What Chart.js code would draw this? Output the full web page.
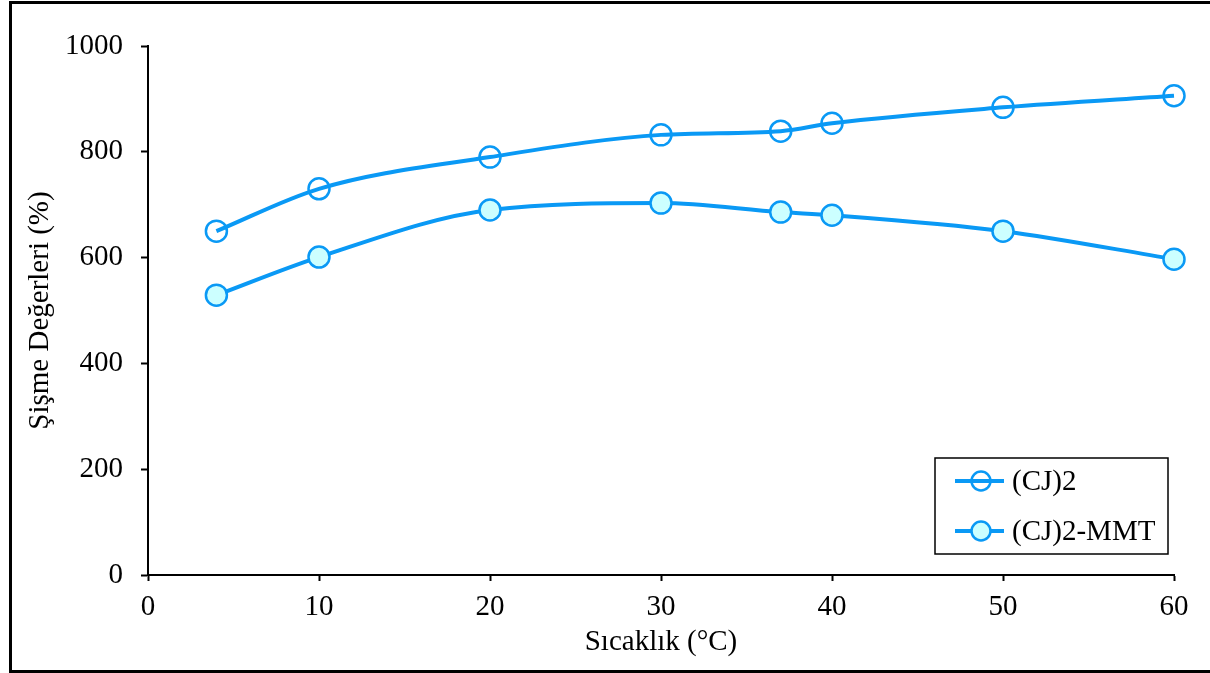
<!DOCTYPE html>
<html>
<head>
<meta charset="utf-8">
<script src="https://cdn.jsdelivr.net/npm/chart.js@4.4.0/dist/chart.umd.min.js"></script>
<style>
html,body{margin:0;padding:0;background:#fff;}
#wrap{width:1210px;height:673px;position:relative;}
</style>
</head>
<body>
<div id="wrap"><canvas id="c" width="1210" height="673"></canvas></div>
<script>
const temps = [4, 10, 20, 30, 37, 40, 50, 60];
const cj2 = [650, 730, 790, 832, 839, 854, 884, 906];
const cj2mmt = [529, 601, 690, 703, 686, 680, 650, 597];
const seriesNames = ['(CJ)2', '(CJ)2-MMT'];
const xTitle = 'Sıcaklık (°C)';
const yTitle = 'Şişme Değerleri (%)';

const blue = '#0A99F5';
const fonts = "'Liberation Serif', 'Times New Roman', serif";
const FS = 29;

const borderPlugin = {
  id: 'outerBorder',
  afterDraw(chart) {
    const ctx = chart.ctx;
    ctx.save();
    ctx.strokeStyle = '#000';
    ctx.lineWidth = 3;
    ctx.strokeRect(10.5, 2.5, 1210, 669);
    ctx.restore();
  }
};

const legendPlugin = {
  id: 'customLegend',
  afterDraw(chart) {
    const ctx = chart.ctx;
    ctx.save();
    ctx.strokeStyle = '#000';
    ctx.lineWidth = 1.5;
    ctx.strokeRect(935, 458, 233, 96);
    const rows = [{y: 481, fill: 'rgba(0,0,0,0)'}, {y: 531, fill: '#CCFFFF'}];
    rows.forEach((r, i) => {
      ctx.strokeStyle = blue;
      ctx.lineWidth = 4;
      ctx.beginPath();
      ctx.moveTo(955, r.y); ctx.lineTo(1004, r.y);
      ctx.stroke();
      ctx.beginPath();
      ctx.arc(981, r.y, 9.5, 0, Math.PI * 2);
      ctx.fillStyle = r.fill;
      ctx.fill();
      ctx.lineWidth = 2.5;
      ctx.stroke();
      ctx.fillStyle = '#000';
      ctx.font = FS + 'px ' + fonts;
      ctx.textBaseline = 'middle';
      ctx.fillText(seriesNames[i], 1012, r.y + 1);
    });
    ctx.restore();
  }
};

new Chart(document.getElementById('c'), {
  type: 'line',
  data: {
    datasets: [
      {
        label: seriesNames[0],
        data: temps.map((t, i) => ({x: t, y: cj2[i]})),
        borderColor: blue,
        borderWidth: 4,
        pointRadius: 10.5,
        pointBorderWidth: 2.5,
        pointBackgroundColor: 'rgba(0,0,0,0)',
        pointBorderColor: blue,
        cubicInterpolationMode: 'monotone',
        clip: false
      },
      {
        label: seriesNames[1],
        data: temps.map((t, i) => ({x: t, y: cj2mmt[i]})),
        borderColor: blue,
        borderWidth: 4,
        pointRadius: 10.5,
        pointBorderWidth: 2.5,
        pointBackgroundColor: '#CCFFFF',
        pointBorderColor: blue,
        cubicInterpolationMode: 'monotone',
        clip: false
      }
    ]
  },
  options: {
    responsive: false,
    animation: false,
    layout: {padding: {left: 20, right: 36, top: 46, bottom: 0}},
    plugins: {legend: {display: false}, tooltip: {enabled: false}},
    scales: {
      x: {
        type: 'linear', min: 0, max: 60,
        afterFit(s) { s.height = 98; },
        ticks: {stepSize: 10, color: '#000', font: {family: fonts, size: FS}, padding: 9, maxRotation: 0, autoSkip: false},
        grid: {display: true, drawOnChartArea: false, drawTicks: true, tickLength: 6, color: '#000', tickColor: '#000', tickWidth: 2},
        border: {color: '#000', width: 2},
        title: {display: true, text: xTitle, color: '#000', font: {family: fonts, size: FS}, padding: {top: 0, bottom: 13}}
      },
      y: {
        min: 0, max: 1000,
        afterFit(s) { s.width = 128; },
        ticks: {stepSize: 200, color: '#000', font: {family: fonts, size: FS}, padding: 18, callback: v => String(v)},
        grid: {display: true, drawOnChartArea: false, drawTicks: true, tickLength: 7, color: '#000', tickColor: '#000', tickWidth: 2},
        border: {color: '#000', width: 2},
        title: {display: true, text: yTitle, color: '#000', font: {family: fonts, size: FS}, padding: {top: 3, bottom: 0}}
      }
    }
  },
  plugins: [borderPlugin, legendPlugin]
});
</script>
</body>
</html>
